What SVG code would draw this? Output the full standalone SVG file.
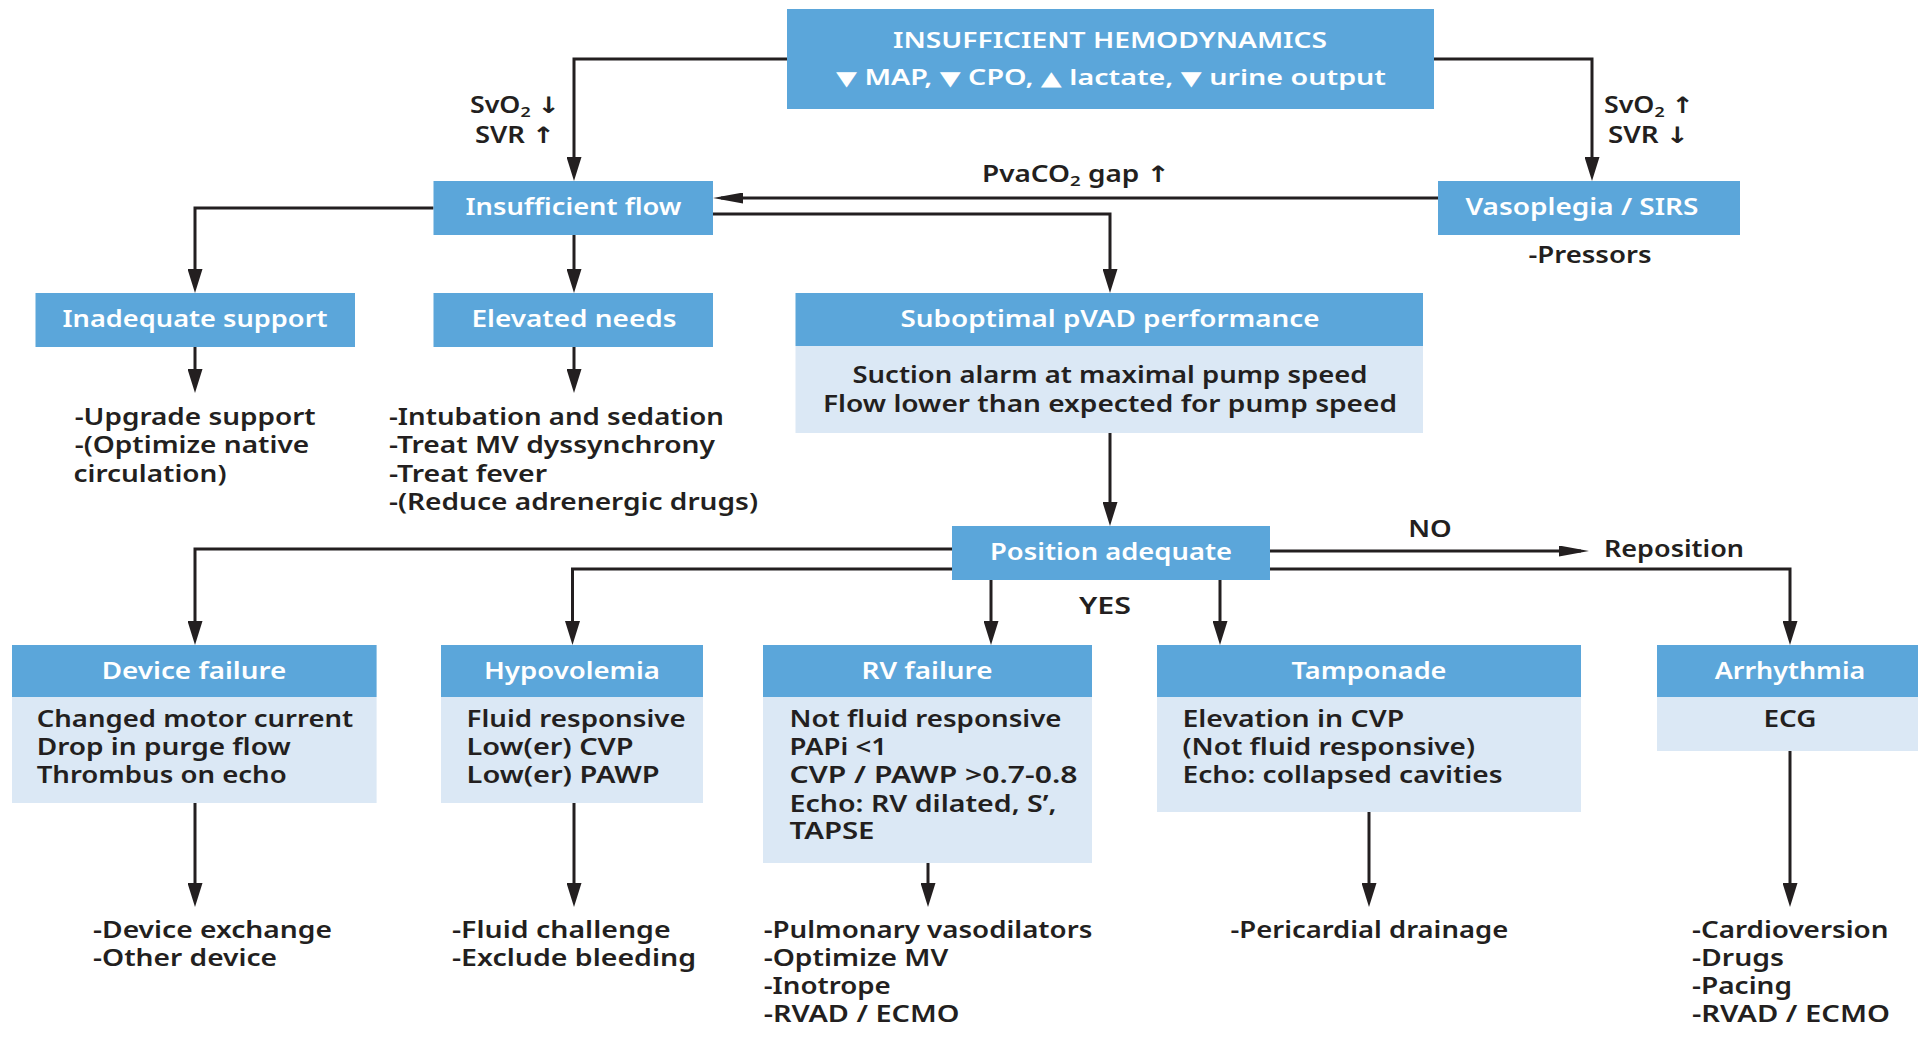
<svg xmlns="http://www.w3.org/2000/svg" width="1918" height="1058" viewBox="0 0 1918 1058">
<style>
text{font-family:"Noto Sans","Open Sans","DejaVu Sans",sans-serif;font-weight:600;font-size:22.5px;fill:#231F20}
.hd{fill:#fff;text-anchor:middle}
.c{text-anchor:middle}
.top{font-size:21px}
.tri{font-size:20px}
.blue{fill:#5BA6DA}
.light{fill:#DBE8F5}
.ln{fill:none;stroke:#231F20;stroke-width:3}
.v{marker-end:url(#av)}
.h{marker-end:url(#ah)}
</style>
<defs>
<marker id="av" markerUnits="userSpaceOnUse" markerWidth="24" markerHeight="15" refX="16" refY="7.5" orient="auto"><path d="M0,0 L24,7.5 L0,15 z" fill="#231F20"/></marker>
<marker id="ah" markerUnits="userSpaceOnUse" markerWidth="30" markerHeight="11" refX="22" refY="5.5" orient="auto"><path d="M0,0 L30,5.5 L0,11 z" fill="#231F20"/></marker>
</defs>
<rect width="1918" height="1058" fill="#fff"/>

<g id="connectors">
<path class="ln v" d="M787,59 H574 V173"/>
<path class="ln v" d="M1434,59 H1592 V173"/>
<path class="ln h" d="M1438,198 H721"/>
<path class="ln v" d="M713,214 H1110 V285"/>
<path class="ln v" d="M433.5,208 H195 V285"/>
<path class="ln v" d="M574,235 V285"/>
<path class="ln v" d="M195,347 V385"/>
<path class="ln v" d="M574,347 V385"/>
<path class="ln v" d="M1110,433 V518"/>
<path class="ln v" d="M952,549 H195 V637"/>
<path class="ln v" d="M952,569 H572.5 V637"/>
<path class="ln v" d="M991,580 V637"/>
<path class="ln v" d="M1220,580 V637"/>
<path class="ln h" d="M1270,551 H1581"/>
<path class="ln v" d="M1270,569 H1790 V637"/>
<path class="ln v" d="M195,803 V899"/>
<path class="ln v" d="M574,803 V899"/>
<path class="ln v" d="M928,863 V899"/>
<path class="ln v" d="M1369,812 V899"/>
<path class="ln v" d="M1790,751 V899"/>
</g>

<g id="labels">
<text class="c" x="515" y="113" textLength="90" lengthAdjust="spacingAndGlyphs">SvO<tspan font-size="15" dy="4">2</tspan><tspan dy="-4"> ↓</tspan></text>
<text class="c" x="515" y="143" textLength="80" lengthAdjust="spacingAndGlyphs">SVR ↑</text>
<text class="c" x="1649" y="113" textLength="90" lengthAdjust="spacingAndGlyphs">SvO<tspan font-size="15" dy="4">2</tspan><tspan dy="-4"> ↑</tspan></text>
<text class="c" x="1648.5" y="143" textLength="81" lengthAdjust="spacingAndGlyphs">SVR ↓</text>
<text class="c" x="1076" y="182" textLength="188" lengthAdjust="spacingAndGlyphs">PvaCO<tspan font-size="15" dy="4">2</tspan><tspan dy="-4"> gap ↑</tspan></text>
<text class="c" x="1430" y="537" textLength="43.5" lengthAdjust="spacingAndGlyphs">NO</text>
<text x="1604" y="557" textLength="140" lengthAdjust="spacingAndGlyphs">Reposition</text>
<text class="c" x="1105" y="614" textLength="52" lengthAdjust="spacingAndGlyphs">YES</text>
</g>

<g id="n-top">
<rect class="blue" x="787" y="9" width="647" height="100"/>
<text class="hd top" x="1110" y="47.7" textLength="434" lengthAdjust="spacingAndGlyphs">INSUFFICIENT HEMODYNAMICS</text>
<text class="hd top" x="1111" y="85" textLength="550" lengthAdjust="spacingAndGlyphs"><tspan class="tri">▼</tspan> MAP, <tspan class="tri">▼</tspan> CPO, <tspan class="tri">▲</tspan> lactate, <tspan class="tri">▼</tspan> urine output</text>
</g>

<g id="n-insufficient-flow">
<rect class="blue" x="433.5" y="181" width="279.5" height="54"/>
<text class="hd" x="573.5" y="215" textLength="216" lengthAdjust="spacingAndGlyphs">Insufficient flow</text>
</g>

<g id="n-vasoplegia">
<rect class="blue" x="1438" y="181" width="302" height="54"/>
<text class="hd" x="1582" y="215" textLength="233" lengthAdjust="spacingAndGlyphs">Vasoplegia / SIRS</text>
<text class="c" x="1590" y="263" textLength="123" lengthAdjust="spacingAndGlyphs">-Pressors</text>
</g>

<g id="n-inadequate">
<rect class="blue" x="35.5" y="293" width="319.5" height="54"/>
<text class="hd" x="195" y="327" textLength="265" lengthAdjust="spacingAndGlyphs">Inadequate support</text>
<text x="74.7" y="425" textLength="241" lengthAdjust="spacingAndGlyphs">-Upgrade support</text>
<text x="74.7" y="453" textLength="234.5" lengthAdjust="spacingAndGlyphs">-(Optimize native</text>
<text x="73.5" y="481.5" textLength="153" lengthAdjust="spacingAndGlyphs">circulation)</text>
</g>

<g id="n-elevated">
<rect class="blue" x="433.5" y="293" width="279.5" height="54"/>
<text class="hd" x="574" y="327" textLength="205" lengthAdjust="spacingAndGlyphs">Elevated needs</text>
<text x="389" y="425" textLength="335" lengthAdjust="spacingAndGlyphs">-Intubation and sedation</text>
<text x="389" y="453" textLength="326" lengthAdjust="spacingAndGlyphs">-Treat MV dyssynchrony</text>
<text x="389" y="481.5" textLength="158" lengthAdjust="spacingAndGlyphs">-Treat fever</text>
<text x="389" y="510" textLength="369" lengthAdjust="spacingAndGlyphs">-(Reduce adrenergic drugs)</text>
</g>

<g id="n-suboptimal">
<rect class="blue" x="795.5" y="293" width="627.5" height="53"/>
<rect class="light" x="795.5" y="346" width="627.5" height="87"/>
<text class="hd" x="1110" y="327" textLength="419" lengthAdjust="spacingAndGlyphs">Suboptimal pVAD performance</text>
<text class="c" x="1110" y="383" textLength="515" lengthAdjust="spacingAndGlyphs">Suction alarm at maximal pump speed</text>
<text class="c" x="1110" y="412" textLength="574" lengthAdjust="spacingAndGlyphs">Flow lower than expected for pump speed</text>
</g>

<g id="n-position">
<rect class="blue" x="952" y="526" width="318" height="54"/>
<text class="hd" x="1111" y="560" textLength="242" lengthAdjust="spacingAndGlyphs">Position adequate</text>
</g>

<g id="n-device">
<rect class="blue" x="12" y="645" width="364.6" height="52"/>
<rect class="light" x="12" y="697" width="364.6" height="106"/>
<text class="hd" x="194" y="679" textLength="184.5" lengthAdjust="spacingAndGlyphs">Device failure</text>
<text x="36.7" y="727" textLength="316.6" lengthAdjust="spacingAndGlyphs">Changed motor current</text>
<text x="36.7" y="755" textLength="254" lengthAdjust="spacingAndGlyphs">Drop in purge flow</text>
<text x="36.7" y="783" textLength="250" lengthAdjust="spacingAndGlyphs">Thrombus on echo</text>
<text x="93" y="937.7" textLength="239" lengthAdjust="spacingAndGlyphs">-Device exchange</text>
<text x="93" y="965.5" textLength="184" lengthAdjust="spacingAndGlyphs">-Other device</text>
</g>

<g id="n-hypovolemia">
<rect class="blue" x="441" y="645" width="262" height="52"/>
<rect class="light" x="441" y="697" width="262" height="106"/>
<text class="hd" x="572" y="679" textLength="176" lengthAdjust="spacingAndGlyphs">Hypovolemia</text>
<text x="466.6" y="727" textLength="219" lengthAdjust="spacingAndGlyphs">Fluid responsive</text>
<text x="466.6" y="755" textLength="167" lengthAdjust="spacingAndGlyphs">Low(er) CVP</text>
<text x="466.6" y="783" textLength="193" lengthAdjust="spacingAndGlyphs">Low(er) PAWP</text>
<text x="452" y="937.7" textLength="218.6" lengthAdjust="spacingAndGlyphs">-Fluid challenge</text>
<text x="452" y="965.5" textLength="244" lengthAdjust="spacingAndGlyphs">-Exclude bleeding</text>
</g>

<g id="n-rv">
<rect class="blue" x="763" y="645" width="329" height="52"/>
<rect class="light" x="763" y="697" width="329" height="166"/>
<text class="hd" x="927" y="679" textLength="131" lengthAdjust="spacingAndGlyphs">RV failure</text>
<text x="789.5" y="727" textLength="272" lengthAdjust="spacingAndGlyphs">Not fluid responsive</text>
<text x="789.5" y="755" textLength="97.5" lengthAdjust="spacingAndGlyphs">PAPi &lt;1</text>
<text x="789.5" y="783" textLength="288" lengthAdjust="spacingAndGlyphs">CVP / PAWP &gt;0.7-0.8</text>
<text x="789.5" y="811.5" textLength="267" lengthAdjust="spacingAndGlyphs">Echo: RV dilated, S’,</text>
<text x="789.5" y="839" textLength="85" lengthAdjust="spacingAndGlyphs">TAPSE</text>
<text x="763.7" y="937.7" textLength="328.7" lengthAdjust="spacingAndGlyphs">-Pulmonary vasodilators</text>
<text x="763.7" y="965.5" textLength="184.6" lengthAdjust="spacingAndGlyphs">-Optimize MV</text>
<text x="763.7" y="993.5" textLength="127" lengthAdjust="spacingAndGlyphs">-Inotrope</text>
<text x="763.7" y="1021.7" textLength="195.7" lengthAdjust="spacingAndGlyphs">-RVAD / ECMO</text>
</g>

<g id="n-tamponade">
<rect class="blue" x="1157" y="645" width="424" height="52"/>
<rect class="light" x="1157" y="697" width="424" height="115"/>
<text class="hd" x="1369" y="679" textLength="155" lengthAdjust="spacingAndGlyphs">Tamponade</text>
<text x="1182.5" y="727" textLength="221.6" lengthAdjust="spacingAndGlyphs">Elevation in CVP</text>
<text x="1182.5" y="755" textLength="292.5" lengthAdjust="spacingAndGlyphs">(Not fluid responsive)</text>
<text x="1182.5" y="783" textLength="320" lengthAdjust="spacingAndGlyphs">Echo: collapsed cavities</text>
<text x="1230.5" y="937.7" textLength="277.7" lengthAdjust="spacingAndGlyphs">-Pericardial drainage</text>
</g>

<g id="n-arrhythmia">
<rect class="blue" x="1657" y="645" width="270" height="52"/>
<rect class="light" x="1657" y="697" width="270" height="54"/>
<text class="hd" x="1790" y="679" textLength="150.7" lengthAdjust="spacingAndGlyphs">Arrhythmia</text>
<text class="c" x="1790" y="727" textLength="53" lengthAdjust="spacingAndGlyphs">ECG</text>
<text x="1692" y="937.7" textLength="196.5" lengthAdjust="spacingAndGlyphs">-Cardioversion</text>
<text x="1692" y="965.5" textLength="92" lengthAdjust="spacingAndGlyphs">-Drugs</text>
<text x="1692" y="993.5" textLength="100" lengthAdjust="spacingAndGlyphs">-Pacing</text>
<text x="1692" y="1021.7" textLength="198" lengthAdjust="spacingAndGlyphs">-RVAD / ECMO</text>
</g>
</svg>
